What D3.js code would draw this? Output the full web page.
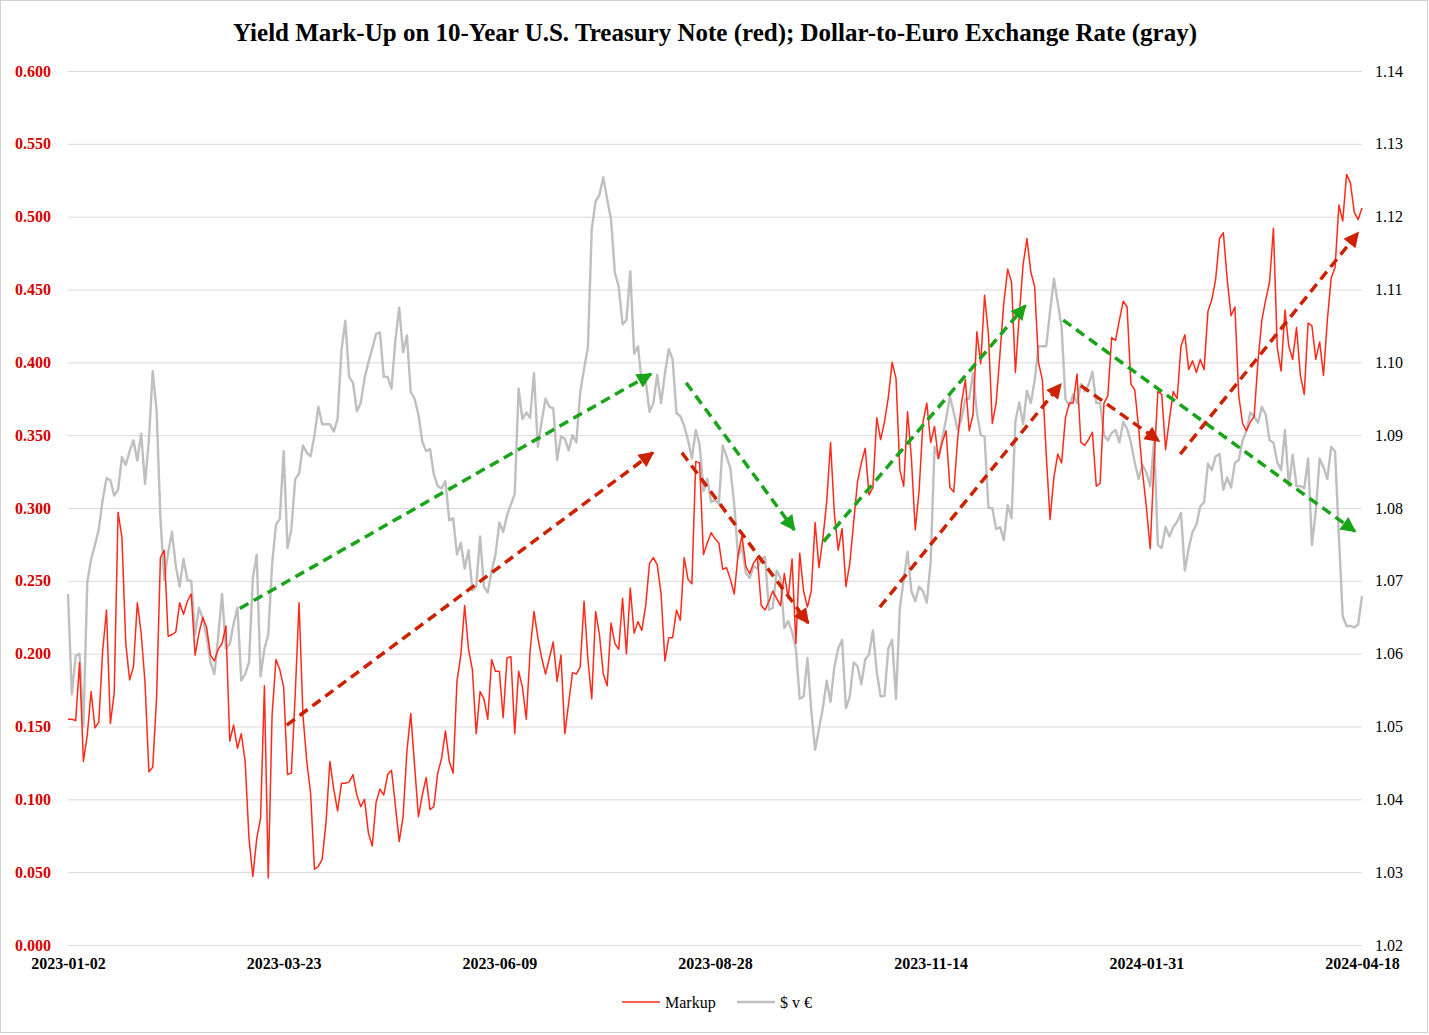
<!DOCTYPE html>
<html><head><meta charset="utf-8">
<script src="https://cdn.jsdelivr.net/npm/d3@7"></script>
<style>
html,body{margin:0;padding:0;background:#fff;}
svg{display:block;}
text{font-family:"Liberation Serif","Times New Roman",serif;}
</style></head>
<body>
<svg id="chart" width="1429" height="1035"></svg>
<script>
// ---------------- DATA ----------------
const chartTitle = "Yield Mark-Up on 10-Year U.S. Treasury Note (red); Dollar-to-Euro Exchange Rate (gray)";
const seriesNames = ["Markup", "$ v \u20AC"];
const dateLabels = ["2023-01-02","2023-03-23","2023-06-09","2023-08-28","2023-11-14","2024-01-31","2024-04-18"];
const dateLabelIndex = [0, 56, 112, 168, 224, 280, 336];
const leftTicks = [0.000,0.050,0.100,0.150,0.200,0.250,0.300,0.350,0.400,0.450,0.500,0.550,0.600];
const rightTicks = [1.02,1.03,1.04,1.05,1.06,1.07,1.08,1.09,1.10,1.11,1.12,1.13,1.14];

const markup = [
0.155,0.155,0.154,0.194,0.126,0.144,0.174,0.149,0.153,0.202,
0.230,0.152,0.173,0.297,0.280,0.207,0.182,0.191,0.235,0.214,
0.180,0.119,0.122,0.170,0.266,0.271,0.212,0.213,0.215,0.235,
0.227,0.236,0.241,0.199,0.214,0.225,0.218,0.199,0.195,0.203,
0.207,0.219,0.140,0.151,0.135,0.145,0.126,0.073,0.047,0.073,
0.087,0.178,0.046,0.158,0.196,0.189,0.177,0.117,0.118,0.172,
0.235,0.158,0.126,0.104,0.052,0.054,0.059,0.084,0.126,0.107,
0.092,0.111,0.111,0.112,0.117,0.103,0.095,0.100,0.077,0.068,
0.098,0.107,0.103,0.117,0.120,0.096,0.071,0.088,0.133,0.159,
0.123,0.088,0.103,0.115,0.093,0.095,0.118,0.128,0.147,0.126,
0.118,0.181,0.199,0.233,0.203,0.189,0.145,0.174,0.169,0.155,
0.196,0.188,0.188,0.156,0.197,0.198,0.145,0.188,0.177,0.155,
0.202,0.229,0.211,0.197,0.186,0.197,0.208,0.181,0.199,0.145,
0.166,0.187,0.186,0.191,0.236,0.196,0.169,0.229,0.213,0.186,
0.178,0.221,0.207,0.203,0.238,0.200,0.245,0.214,0.222,0.216,
0.233,0.262,0.266,0.261,0.241,0.195,0.211,0.211,0.230,0.223,
0.266,0.251,0.248,0.332,0.331,0.268,0.276,0.283,0.279,0.276,
0.258,0.259,0.251,0.241,0.268,0.281,0.260,0.255,0.262,0.266,
0.233,0.230,0.236,0.243,0.238,0.233,0.255,0.238,0.265,0.207,
0.269,0.243,0.232,0.243,0.290,0.259,0.279,0.304,0.345,0.296,
0.271,0.286,0.246,0.262,0.290,0.318,0.331,0.341,0.309,0.314,
0.362,0.347,0.359,0.376,0.400,0.389,0.326,0.315,0.366,0.334,
0.285,0.312,0.359,0.372,0.345,0.356,0.334,0.345,0.353,0.314,
0.311,0.347,0.372,0.388,0.353,0.364,0.421,0.399,0.446,0.419,
0.358,0.372,0.406,0.441,0.464,0.455,0.393,0.432,0.467,0.485,
0.462,0.452,0.400,0.388,0.337,0.292,0.321,0.337,0.331,0.362,
0.372,0.372,0.392,0.345,0.343,0.347,0.352,0.315,0.317,0.372,
0.377,0.417,0.415,0.429,0.442,0.438,0.385,0.381,0.355,0.325,
0.301,0.272,0.331,0.380,0.378,0.340,0.361,0.380,0.375,0.411,
0.419,0.395,0.401,0.393,0.402,0.395,0.435,0.443,0.457,0.485,
0.489,0.457,0.432,0.438,0.377,0.358,0.353,0.359,0.363,0.401,
0.429,0.443,0.455,0.492,0.410,0.394,0.436,0.411,0.402,0.424,
0.391,0.378,0.427,0.425,0.402,0.414,0.391,0.429,0.458,0.465,
0.508,0.497,0.529,0.523,0.503,0.498,0.506
];

const dollarEuro = [
1.0682,1.0544,1.0597,1.0600,1.0500,1.0698,1.0730,1.0749,1.0771,1.0811,
1.0841,1.0838,1.0817,1.0825,1.0870,1.0859,1.0878,1.0893,1.0865,1.0902,
1.0833,1.0893,1.0988,1.0934,1.0786,1.0701,1.0739,1.0767,1.0720,1.0692,
1.0730,1.0701,1.0700,1.0626,1.0663,1.0648,1.0623,1.0588,1.0572,1.0623,
1.0682,1.0607,1.0613,1.0641,1.0663,1.0563,1.0572,1.0588,1.0704,1.0736,
1.0569,1.0607,1.0626,1.0723,1.0777,1.0785,1.0878,1.0745,1.0771,1.0840,
1.0847,1.0886,1.0876,1.0871,1.0900,1.0939,1.0915,1.0915,1.0915,1.0905,
1.0922,1.1016,1.1057,1.0980,1.0972,1.0933,1.0944,1.0978,1.1000,1.1019,
1.1039,1.1041,1.0980,1.0980,1.0964,1.1030,1.1075,1.1014,1.1037,1.0959,
1.0950,1.0928,1.0891,1.0878,1.0881,1.0846,1.0830,1.0827,1.0837,1.0783,
1.0786,1.0736,1.0752,1.0717,1.0742,1.0687,1.0692,1.0761,1.0692,1.0684,
1.0714,1.0736,1.0780,1.0767,1.0790,1.0805,1.0819,1.0964,1.0922,1.0931,
1.0924,1.0985,1.0884,1.0919,1.0950,1.0939,1.0937,1.0866,1.0898,1.0895,
1.0879,1.0900,1.0890,1.0959,1.0991,1.1021,1.1183,1.1221,1.1230,1.1254,
1.1224,1.1196,1.1123,1.1104,1.1052,1.1058,1.1125,1.1012,1.1022,1.0972,
1.0975,1.0932,1.0944,1.0983,1.0944,1.0985,1.1018,1.1004,1.0930,1.0926,
1.0913,1.0893,1.0868,1.0907,1.0887,1.0823,1.0840,1.0808,1.0811,1.0806,
1.0886,1.0871,1.0854,1.0805,1.0733,1.0748,1.0711,1.0704,1.0720,1.0717,
1.0730,1.0733,1.0660,1.0663,1.0714,1.0704,1.0635,1.0645,1.0630,1.0607,
1.0538,1.0541,1.0594,1.0522,1.0468,1.0497,1.0525,1.0563,1.0534,1.0582,
1.0607,1.0619,1.0525,1.0541,1.0588,1.0583,1.0558,1.0592,1.0599,1.0632,
1.0575,1.0541,1.0542,1.0607,1.0619,1.0538,1.0663,1.0701,1.0740,1.0686,
1.0672,1.0692,1.0686,1.0670,1.0726,1.0884,1.0868,1.0895,1.0922,1.0953,
1.0931,1.0907,1.0922,1.0950,1.0950,1.0985,1.0931,1.0900,1.0898,1.0800,
1.0800,1.0771,1.0774,1.0756,1.0804,1.0786,1.0919,1.0945,1.0915,1.0961,
1.0944,1.0975,1.1022,1.1022,1.1022,1.1070,1.1115,1.1082,1.1048,1.0950,
1.0940,1.0956,1.0944,1.0970,1.0960,1.0969,1.0987,1.0944,1.0944,1.0900,
1.0893,1.0903,1.0907,1.0890,1.0918,1.0909,1.0890,1.0862,1.0840,1.0859,
1.0849,1.0830,1.0893,1.0749,1.0745,1.0774,1.0761,1.0774,1.0781,1.0793,
1.0714,1.0745,1.0767,1.0777,1.0802,1.0808,1.0861,1.0852,1.0871,1.0874,
1.0825,1.0842,1.0828,1.0862,1.0866,1.0893,1.0906,1.0931,1.0926,1.0917,
1.0939,1.0928,1.0893,1.0890,1.0863,1.0852,1.0907,1.0830,1.0873,1.0830,
1.0830,1.0827,1.0868,1.0749,1.0796,1.0868,1.0856,1.0840,1.0884,1.0878,
1.0761,1.0651,1.0638,1.0638,1.0636,1.0640,1.0679
];

// Trend arrows annotated on the chart, in data units (point index, left-axis value)
const greenArrows = [
  [44.6, 0.231, 151.4, 0.392],
  [160.5, 0.386, 188.6, 0.285],
  [196.2, 0.277, 248.6, 0.439],
  [258.4, 0.429, 334.2, 0.284]
];
const redArrows = [
  [56.8, 0.151, 151.9, 0.338],
  [159.4, 0.338, 192.2, 0.221],
  [210.8, 0.232, 257.8, 0.385],
  [263.0, 0.384, 283.3, 0.346],
  [288.8, 0.337, 335.0, 0.489]
];

// ---------------- DRAW ----------------
const W = 1429, H = 1035;
const plot = {left: 68, right: 1362, top: 71, bottom: 945};
const svg = d3.select("#chart");
const RED = "#ff2a1a", GRAY = "#bfbfbf", GREEN_ARROW = "#1aa41a", RED_ARROW = "#cc2200";
const FONT = "'Liberation Serif','Times New Roman',serif";

svg.append("rect").attr("x",0.5).attr("y",0.5).attr("width",W-2).attr("height",H-3)
  .attr("fill","#fff").attr("stroke","#d0d0d0").attr("stroke-width",1);

const n = markup.length;
const x = d3.scaleLinear().domain([0, n-1]).range([plot.left, plot.right]);
const yL = d3.scaleLinear().domain([0, 0.6]).range([plot.bottom, plot.top]);
const yR = d3.scaleLinear().domain([1.02, 1.14]).range([plot.bottom, plot.top]);

// gridlines
const grid = svg.append("g").attr("transform",`translate(${plot.left},0)`)
  .call(d3.axisLeft(yL).tickValues(leftTicks).tickSize(-(plot.right-plot.left)).tickFormat(""));
grid.select(".domain").remove();
grid.selectAll(".tick line").attr("stroke","#d9d9d9").attr("stroke-width",1);

// left axis labels
const gl = svg.append("g").attr("transform",`translate(${plot.left-14},0)`)
  .call(d3.axisLeft(yL).tickValues(leftTicks).tickSize(0).tickFormat(d3.format(".3f")));
gl.select(".domain").remove();
gl.selectAll("text").attr("fill","#d40000").attr("font-weight","bold")
  .style("font-family",FONT).style("font-size","16px");

// right axis labels
const gr = svg.append("g").attr("transform",`translate(${plot.right+10},0)`)
  .call(d3.axisRight(yR).tickValues(rightTicks).tickSize(0).tickFormat(d3.format(".2f")));
gr.select(".domain").remove();
gr.selectAll("text").attr("fill","#000")
  .style("font-family",FONT).style("font-size","16px");

// bottom axis labels
const gb = svg.append("g").attr("transform",`translate(0,${plot.bottom+10})`)
  .call(d3.axisBottom(x).tickValues(dateLabelIndex).tickSize(0).tickFormat((d,i)=>dateLabels[i]));
gb.select(".domain").remove();
gb.selectAll("text").attr("fill","#000").attr("font-weight","bold")
  .style("font-family",FONT).style("font-size","16px");

// lines
const lineL = d3.line().x((d,i)=>x(i)).y(d=>yL(d));
const lineR = d3.line().x((d,i)=>x(i)).y(d=>yR(d));
svg.append("path").datum(dollarEuro).attr("d",lineR).attr("fill","none")
  .attr("stroke",GRAY).attr("stroke-width",2.4).attr("stroke-linejoin","round");
svg.append("path").datum(markup).attr("d",lineL).attr("fill","none")
  .attr("stroke",RED).attr("stroke-width",1.5).attr("stroke-linejoin","round");

// arrow markers
const defs = svg.append("defs");
[["gHead",GREEN_ARROW],["rHead",RED_ARROW]].forEach(([id,c])=>{
  defs.append("marker").attr("id",id).attr("viewBox","0 0 10 10").attr("refX",9).attr("refY",5)
    .attr("markerWidth",5).attr("markerHeight",4.4).attr("markerUnits","strokeWidth")
    .attr("orient","auto")
    .append("path").attr("d","M0,0 L10,5 L0,10 z").attr("fill",c);
});
function drawArrows(list, color, head){
  svg.append("g").selectAll("line").data(list).join("line")
    .attr("x1",d=>x(d[0])).attr("y1",d=>yL(d[1]))
    .attr("x2",d=>x(d[2])).attr("y2",d=>yL(d[3]))
    .attr("stroke",color).attr("stroke-width",3.5)
    .attr("stroke-dasharray","10,6")
    .attr("marker-end",`url(#${head})`);
}
drawArrows(greenArrows, GREEN_ARROW, "gHead");
drawArrows(redArrows, RED_ARROW, "rHead");

// title
svg.append("text").attr("x",(plot.left+plot.right)/2).attr("y",41).attr("text-anchor","middle")
  .attr("font-weight","bold").style("font-size","25px").attr("fill","#000").text(chartTitle);

// legend
const leg = svg.append("g").attr("transform","translate(0,1002)");
const legItems = [{name:seriesNames[0], c:RED, w:1.5, x0:622},{name:seriesNames[1], c:GRAY, w:2.4, x0:737}];
legItems.forEach(it=>{
  leg.append("line").attr("x1",it.x0).attr("x2",it.x0+38).attr("y1",0).attr("y2",0)
    .attr("stroke",it.c).attr("stroke-width",it.w);
  leg.append("text").attr("x",it.x0+43).attr("y",5.5).style("font-size","16px").attr("fill","#000").text(it.name);
});
</script>
</body></html>
